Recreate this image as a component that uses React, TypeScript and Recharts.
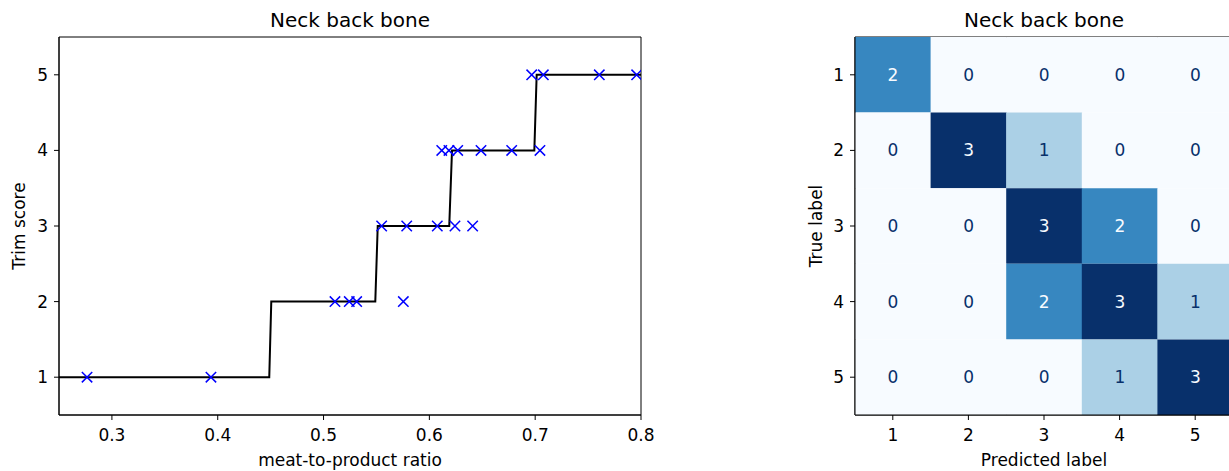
import {
  ScatterChart, Scatter, BarChart, Bar, Cell, LabelList, XAxis, YAxis, ReferenceArea,
} from "recharts";

// scatter: meat-to-product ratio vs trim score
const ratioX = [
  0.2765, 0.3936,
  0.5108, 0.5243, 0.5313, 0.5754,
  0.5549, 0.5786, 0.6075, 0.6242, 0.6409,
  0.6117, 0.6185, 0.6268, 0.6488, 0.6778, 0.7045,
  0.6967, 0.7077, 0.7606, 0.7959,
];
const scoreY = [1, 1, 2, 2, 2, 2, 3, 3, 3, 3, 3, 4, 4, 4, 4, 4, 4, 5, 5, 5, 5];

// fitted step curve
const stepX = [0.25, 0.4487, 0.4506, 0.5489, 0.5512, 0.6188, 0.6214, 0.6992, 0.7014, 0.8];
const stepY = [1, 1, 2, 2, 3, 3, 4, 4, 5, 5];

const xTicks = [0.3, 0.4, 0.5, 0.6, 0.7, 0.8];
const yTicks = [1, 2, 3, 4, 5];

// confusion matrix, rows = true label, cols = predicted label
const labels = ["1", "2", "3", "4", "5"];
const confusion = [
  [2, 0, 0, 0, 0],
  [0, 3, 1, 0, 0],
  [0, 0, 3, 2, 0],
  [0, 0, 2, 3, 1],
  [0, 0, 0, 1, 3],
];

// Blues colormap sampled at 0, 1/3, 2/3, 1 (vmax = 3)
const blues = ["#f7fbff", "#abd0e6", "#3787c0", "#08306b"];

const points = ratioX.map((x, i) => ({ x, y: scoreY[i] }));
const stepData = stepX.map((x, i) => ({ x, y: stepY[i] }));

// one row per predicted label, each true label stacked as a unit cell
const cmData = labels.map((p, pi) => {
  const row: Record<string, string | number> = { pred: p };
  labels.forEach((_, ti) => {
    row[`t${ti}`] = 1;
    row[`c${ti}`] = confusion[ti][pi];
  });
  return row;
});

const font = "'DejaVu Sans', sans-serif";
const fs = 17;
const tickStyle = { fill: "#000", fontSize: fs };
const labelStyle = { fill: "#000", fontSize: fs, textAnchor: "middle" as const };

const XMark = (props: any) => {
  const { cx, cy } = props;
  const r = 5.2;
  return (
    <path
      d={`M${cx - r},${cy - r}L${cx + r},${cy + r}M${cx - r},${cy + r}L${cx + r},${cy - r}`}
      stroke="#0000ff"
      strokeWidth={1.5}
      fill="none"
    />
  );
};

const NoDot = () => <g />;

const CellText = (props: any) => {
  const { x, y, width, height, value } = props;
  return (
    <text
      x={x + width / 2}
      y={y + height / 2}
      textAnchor="middle"
      dominantBaseline="central"
      fontSize={fs}
      fill={value >= 2 ? "#f7fbff" : "#08306b"}
    >
      {value}
    </text>
  );
};

const titleStyle: React.CSSProperties = {
  position: "absolute",
  top: 8,
  fontSize: 20,
  lineHeight: "24px",
  textAlign: "center",
  color: "#000",
};

export default function App() {
  return (
    <div
      style={{
        position: "absolute",
        top: 0,
        left: 0,
        width: 1229,
        height: 471,
        overflow: "hidden",
        background: "#fff",
        fontFamily: font,
      }}
    >
      {/* left: scatter with step fit */}
      <div style={{ ...titleStyle, left: 59, width: 582 }}>Neck back bone</div>
      <div style={{ position: "absolute", left: 0, top: 0 }}>
        <ScatterChart width={680} height={471} margin={{ top: 37, right: 39, bottom: 0, left: 0 }}>
          <XAxis
            type="number"
            dataKey="x"
            domain={[0.25, 0.8]}
            ticks={xTicks}
            tickFormatter={(v) => String(v)}
            allowDataOverflow
            height={56}
            stroke="#000"
            tickSize={5}
            tickMargin={9}
            tick={tickStyle}
            label={{ value: "meat-to-product ratio", position: "insideBottom", offset: 5, style: labelStyle }}
          />
          <YAxis
            type="number"
            dataKey="y"
            domain={[0.5, 5.5]}
            ticks={yTicks}
            allowDataOverflow
            width={59}
            stroke="#000"
            tickSize={5}
            tickMargin={6}
            tick={tickStyle}
            label={{ value: "Trim score", angle: -90, position: "insideLeft", offset: 19, style: labelStyle }}
          />
          <ReferenceArea x1={0.25} x2={0.8} y1={0.5} y2={5.5} fill="none" stroke="#000" strokeWidth={1} ifOverflow="visible" />
          <Scatter
            data={stepData}
            line={{ stroke: "#000", strokeWidth: 2 }}
            lineType="joint"
            shape={NoDot}
            isAnimationActive={false}
          />
          <Scatter data={points} shape={XMark} isAnimationActive={false} />
        </ScatterChart>
      </div>

      {/* right: confusion matrix */}
      <div style={{ ...titleStyle, left: 855, width: 378 }}>Neck back bone</div>
      <div style={{ position: "absolute", left: 780, top: 0 }}>
        <BarChart
          width={480}
          height={471}
          data={cmData}
          margin={{ top: 37, right: 27, bottom: 0, left: 0 }}
          barCategoryGap={0}
          barGap={0}
        >
          <XAxis
            dataKey="pred"
            height={56}
            stroke="#000"
            tickSize={5}
            tickMargin={9}
            tick={tickStyle}
            label={{ value: "Predicted label", position: "insideBottom", offset: 5, style: labelStyle }}
          />
          <YAxis
            type="number"
            domain={[0, 5]}
            ticks={[0.5, 1.5, 2.5, 3.5, 4.5]}
            tickFormatter={(v) => String(v + 0.5)}
            reversed
            width={75}
            stroke="#000"
            tickSize={5}
            tickMargin={6}
            tick={tickStyle}
            label={{ value: "True label", angle: -90, position: "insideLeft", offset: 36, style: labelStyle }}
          />
          {labels.map((_, ti) => (
            <Bar key={ti} dataKey={`t${ti}`} stackId="cm" isAnimationActive={false}>
              {labels.map((__, pi) => (
                <Cell key={pi} fill={blues[confusion[ti][pi]]} />
              ))}
              <LabelList dataKey={`c${ti}`} content={CellText} />
            </Bar>
          ))}
          <ReferenceArea x1="1" x2="5" y1={0} y2={5} fill="none" stroke="#000" strokeWidth={1} ifOverflow="visible" />
        </BarChart>
      </div>
    </div>
  );
}
